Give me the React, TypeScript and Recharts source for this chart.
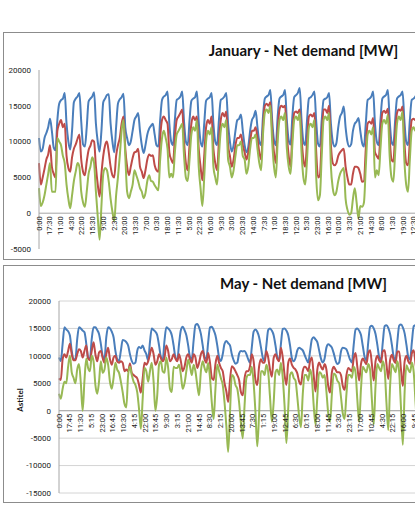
import { CartesianGrid, Line, LineChart, ReferenceLine, XAxis, YAxis } from "recharts";

// sample hours inside each day (data read every 3 hours off the picture)
const SAMPLE_HOURS = [0, 3, 6, 9, 12, 15, 18, 21];

// category labels that fall inside the picture (every 35th half hour / 71st quarter hour)
const JAN_LABELS = [
  "0:00", "17:30", "11:00", "4:30", "22:00", "15:30", "9:00", "2:30", "20:00", "13:30",
  "7:00", "0:30", "18:00", "11:30", "5:00", "22:30", "16:00", "9:30", "3:00", "20:30",
  "14:00", "7:30", "1:00", "18:30", "12:00", "5:30", "23:00", "16:30", "10:00", "3:30",
  "21:00", "14:30", "8:00", "1:30", "19:00", "12:30",
];

const MAY_LABELS = [
  "0:00", "17:45", "11:30", "5:15", "23:00", "16:45", "10:30", "4:15", "22:00", "15:45",
  "9:30", "3:15", "21:00", "14:45", "8:30", "2:15", "20:00", "13:45", "7:30", "1:15",
  "19:00", "12:45", "6:30", "0:15", "18:00", "11:45", "5:30", "23:15", "17:00", "10:45",
  "4:30", "22:15", "16:00", "9:45",
];

const JAN_Y_TICKS = [-5000, 0, 5000, 10000, 15000, 20000];
const MAY_Y_TICKS = [-15000, -10000, -5000, 0, 5000, 10000, 15000, 20000];

// January, half-hourly categories (one row per 3 h)
const JAN_DEMAND = [
  10500, 8600, 9000, 10500, 11200, 12000, 13200, 11500,
  9200, 8800, 13000, 15300, 15800, 16000, 16800, 12500,
  10000, 8900, 11500, 15500, 16000, 16300, 16800, 12800,
  9600, 9300, 12000, 15600, 16000, 16300, 16900, 12500,
  10000, 8600, 11500, 15500, 16000, 16500, 16600, 12500,
  10000, 8500, 12000, 15300, 15900, 16200, 16700, 12000,
  10500, 9500, 10000, 11500, 13000, 13500, 14000, 11500,
  9500, 8400, 9500, 11000, 11800, 12200, 12500, 11000,
  9500, 9300, 13000, 15800, 16300, 16500, 17000, 12500,
  10000, 9500, 13000, 15800, 16000, 16300, 17000, 12800,
  10000, 9500, 13000, 15700, 16000, 16200, 17000, 12800,
  10000, 9300, 12500, 15700, 16000, 16200, 16800, 12500,
  10000, 9500, 13000, 15800, 16000, 16300, 16800, 12500,
  10000, 8600, 9500, 11500, 13000, 13200, 13800, 11500,
  9500, 8500, 9300, 11500, 13000, 13500, 14300, 12000,
  10000, 9500, 13500, 16000, 16300, 16500, 17200, 13000,
  10200, 9500, 13500, 16000, 16300, 16500, 17200, 13000,
  10200, 9600, 13500, 16200, 16500, 16800, 17500, 13000,
  10000, 9500, 13000, 16000, 16200, 16500, 17000, 12800,
  9700, 9300, 13000, 15800, 16000, 16200, 16800, 12500,
  10000, 9300, 9800, 12000, 13500, 14000, 14900, 12000,
  10000, 9300, 9600, 11500, 12500, 12800, 13300, 11500,
  9800, 9300, 12500, 15800, 16000, 16300, 17000, 12500,
  10000, 9500, 13000, 16000, 16300, 16500, 17200, 13000,
  10000, 9500, 13000, 16000, 16300, 16500, 17000, 13000,
  10000, 9500, 13000, 15800, 16000, 16300, 16800, 12800,
  9800, 9400, 12800, 15800, 16000, 16200, 16800, 12500,
  10000,
];

const JAN_NET_A = [
  7000, 4000, 5000, 6200, 7500, 8200, 9500, 6500,
  5500, 5000, 11500, 12500, 13000, 12000, 12500, 8000,
  6300, 5800, 7800, 9000, 9600, 10400, 11000, 7500,
  5800, 5300, 7200, 8800, 9400, 10200, 10000, 6500,
  4000, 2300, 5500, 8000, 9500, 10000, 8500, 6500,
  5300, 5000, 8000, 9500, 10500, 12500, 13500, 9000,
  6500, 5300, 6500, 7700, 8500, 8600, 9000, 6500,
  5800, 4900, 6000, 7500, 8200, 8000, 8100, 6700,
  6000, 5800, 10500, 13000, 13500, 13000, 12500, 8500,
  7500, 7000, 10500, 13000, 13500, 14000, 14500, 10000,
  7000, 6000, 9500, 12500, 13500, 13000, 13500, 9000,
  6500, 4600, 8000, 12000, 13000, 12500, 13500, 9000,
  7000, 6000, 10000, 13000, 14000, 13500, 14200, 9500,
  8000, 6500, 7500, 9500, 10500, 10500, 11000, 9500,
  8500, 7500, 8500, 10000, 11500, 11500, 12000, 10500,
  8500, 7500, 12000, 15000, 15300, 15000, 15500, 11500,
  8500, 7000, 11500, 14500, 15000, 14800, 15000, 11000,
  8000, 6500, 11000, 14000, 14200, 14000, 14500, 10500,
  7500, 6500, 10000, 13500, 13800, 13500, 14000, 8500,
  5000, 5300, 10500, 14500, 14500, 14000, 15000, 9500,
  7000, 6700, 7000, 8000, 8500, 8800, 9000, 6500,
  5000, 4000, 4000, 5500, 6500, 6500, 6300, 5500,
  4400, 4500, 9000, 12500, 12800, 12500, 13300, 8500,
  8000, 7600, 11000, 14000, 14300, 14000, 14600, 10500,
  7500, 7200, 11000, 14000, 14500, 14300, 14900, 10000,
  7000, 6700, 10000, 13000, 13200, 13000, 13500, 9500,
  6500, 6200, 9500, 12500, 12800, 12500, 13000, 9000,
  6500,
];

const JAN_NET_B = [
  3500, 1000, 1500, 2500, 4000, 5500, 7000, 3000,
  3000, 3000, 10500, 10000, 9500, 8000, 7000, 4000,
  2000, 700, 2500, 4500, 5800, 7000, 6500, 3000,
  1500, 900, 3000, 5500, 6500, 7800, 7000, 3000,
  -500, -3700, 1000, 5500, 6300, 6000, 4400, 2000,
  200, -1100, 2500, 5000, 8000, 11500, 13000, 8000,
  3000, 2100, 3000, 4000, 6000, 5300, 4500, 3500,
  3000, 2100, 2800, 4500, 5300, 4500, 4400, 3900,
  3500, 3200, 7500, 10500, 11500, 10500, 9000, 5000,
  5500, 5000, 8500, 11000, 11500, 12000, 12500, 8000,
  5000, 4500, 7500, 11000, 12000, 11500, 13000, 6500,
  3500, 1000, 5000, 10000, 11500, 11000, 12000, 6500,
  5000, 4000, 8000, 11500, 12500, 12000, 13000, 7500,
  6500, 5000, 6000, 8000, 9500, 9500, 10000, 8000,
  7500, 5500, 6500, 9000, 10500, 10500, 11000, 9000,
  7000, 6000, 11000, 14000, 14500, 14000, 15000, 10000,
  6500, 5000, 10000, 13000, 13500, 13000, 14000, 9000,
  6500, 5500, 9500, 13000, 13500, 13000, 14000, 8500,
  5000, 4000, 7500, 12000, 12500, 12000, 13000, 5000,
  1800, 2500, 8000, 13000, 13500, 13000, 14000, 6500,
  3500, 2500, 3000, 4500, 5500, 6000, 6300, 2000,
  500, -200, 0, 2000, 3500, 1500, -700, 1000,
  900, 1500, 6500, 11000, 11500, 11000, 12000, 5000,
  6000, 5300, 9000, 12500, 13000, 12500, 13700, 8000,
  5000, 4400, 8500, 12500, 13500, 13000, 14200, 7500,
  4000, 3000, 7500, 11500, 12000, 11500, 12500, 6500,
  3500, 3000, 7000, 11000, 11500, 11000, 12000, 6000,
  3500,
];

// May, quarter-hourly categories (one row per 3 h)
const MAY_DEMAND = [
  9700, 9060, 12200, 15200, 14800, 14500, 13700, 10900,
  9400, 9400, 13000, 15200, 15000, 14600, 14300, 12200,
  9700, 9400, 13100, 15200, 15200, 14700, 14000, 12200,
  10000, 9400, 13400, 15200, 15000, 14400, 13400, 10900,
  9400, 9060, 10900, 12900, 12800, 12500, 11900, 10300,
  9060, 8560, 8750, 10900, 11600, 11400, 11900, 11000,
  10300, 9200, 12500, 15000, 14700, 14400, 13750, 11900,
  9800, 9200, 12800, 15200, 15000, 14600, 13750, 11900,
  9700, 9200, 12200, 14700, 15300, 14700, 13750, 11900,
  9800, 9400, 12800, 15600, 15800, 15200, 14000, 11900,
  9800, 9400, 12500, 15200, 15300, 14700, 13750, 11900,
  9700, 9060, 10300, 12200, 12700, 12300, 11900, 10300,
  9200, 8560, 8750, 10400, 10900, 10800, 10900, 10300,
  9400, 8750, 11600, 14400, 14800, 14400, 13400, 11600,
  9700, 9060, 11900, 14700, 15000, 14600, 13750, 11900,
  9800, 9200, 12200, 14900, 15000, 14600, 13750, 11900,
  9600, 9000, 9600, 11000, 11500, 11300, 11000, 10200,
  9400, 8800, 10800, 13000, 13400, 13000, 12500, 11000,
  9500, 8800, 9500, 11500, 12100, 11900, 11500, 10500,
  9200, 8500, 8800, 10800, 11500, 11400, 11200, 10300,
  9300, 8800, 12000, 14800, 15000, 14600, 13800, 11800,
  9800, 9200, 12500, 15300, 15500, 15000, 14000, 12000,
  9800, 9300, 12500, 15400, 15600, 15100, 14000, 12000,
  9800, 9300, 12600, 15500, 15700, 15200, 14100, 12000,
  9800, 9300, 12600, 15400, 15600, 15100, 14000, 12000,
  9800,
];

const MAY_NET_A = [
  5900, 5600, 9400, 10300, 9700, 10900, 12200, 10300,
  9200, 9200, 10300, 11200, 10900, 9700, 10900, 11900,
  9500, 9200, 10900, 12500, 10300, 9000, 10600, 10900,
  9600, 8750, 10300, 11500, 9400, 8400, 9700, 10000,
  9000, 8750, 9000, 8750, 7200, 7500, 7200, 8600,
  6900, 6500, 6250, 5900, 4700, 3300, 5900, 8750,
  8400, 9000, 10300, 11500, 10300, 8400, 9000, 10300,
  9600, 9000, 9700, 11900, 10900, 9000, 9400, 10300,
  9500, 9000, 10300, 9000, 7200, 8000, 9700, 10300,
  9400, 8750, 10300, 9700, 7800, 8750, 10300, 10900,
  9400, 8750, 10500, 8750, 6000, 5600, 8500, 10000,
  8750, 7800, 7200, 5000, 3500, 1600, 5600, 8100,
  7800, 7200, 6500, 5600, 3400, 2800, 5900, 7200,
  7200, 8100, 10300, 9000, 5600, 4700, 8100, 9400,
  8750, 8800, 10900, 9700, 7500, 6200, 9600, 10300,
  9400, 9000, 11500, 9700, 6500, 4700, 8700, 9500,
  8400, 7800, 7500, 6800, 5300, 4800, 7200, 8000,
  7800, 7200, 9000, 9700, 6500, 3500, 7500, 8800,
  8000, 7500, 8500, 7500, 4500, 3300, 7000, 8000,
  7500, 7000, 7000, 6500, 4500, 3800, 6500, 7800,
  7500, 7200, 9500, 10500, 8000, 5500, 8500, 9500,
  9000, 8500, 10500, 11000, 8500, 5500, 9000, 10000,
  9200, 8800, 10800, 11000, 8500, 5800, 9200, 10200,
  9200, 8700, 10800, 10800, 7500, 4500, 9000, 10000,
  9000, 8500, 10500, 11000, 8500, 6000, 9000, 10000,
  9000,
];

const MAY_NET_B = [
  3100, 2200, 4000, 5300, 5000, 8000, 10000, 7000,
  6000, 5000, 7500, 8500, 5000, 0, 5500, 9500,
  7800, 7200, 10000, 9000, 4700, 3100, 5300, 9000,
  6900, 7500, 9700, 8400, 5300, 4000, 6000, 8750,
  7500, 6900, 5300, 3400, 1250, 600, 6500, 8000,
  6500, 5300, 4700, 3400, 300, -3300, 2200, 7800,
  7200, 5300, 7200, 8750, 5300, 0, 2800, 8400,
  9000, 7200, 6900, 9700, 7800, 4000, 3400, 8000,
  7800, 7800, 8400, 6500, 4000, 5000, 7200, 9300,
  8100, 6500, 8400, 7200, 4700, 2800, 7200, 9000,
  7800, 7000, 8700, 6000, 1500, -1500, 4000, 8400,
  7200, 5900, 4700, 1500, -2800, -7500, -300, 6500,
  6200, 4700, 4000, 1500, -2200, -5000, 900, 5900,
  6500, 6500, 8000, 5000, -300, -6500, -500, 7200,
  7200, 6500, 8400, 7000, 2500, -2000, 1500, 7000,
  7500, 6500, 8750, 6000, 900, -5900, 300, 6500,
  7000, 6000, 5500, 2500, -1000, -3000, 3000, 6500,
  6500, 5500, 7500, 6000, 1000, -2500, 2500, 7000,
  6800, 6000, 6500, 3500, -500, -2000, 3000, 6800,
  6500, 5500, 5000, 2500, -500, -1500, 3000, 6500,
  6500, 6000, 8000, 7000, 2000, -2000, 4000, 8000,
  7500, 7000, 8500, 7500, 2000, -2500, 4500, 8500,
  7800, 7200, 9000, 7500, 1500, -3500, 4500, 8500,
  7800, 7000, 9000, 7000, 500, -6200, 3500, 8300,
  7500, 7000, 8800, 7000, 1500, -3000, 4000, 8000,
  7500,
];

const BLUE = "#4A7EBB";
const RED = "#BE4B48";
const GREEN = "#98B954";
const AXIS = "#a6a6a6";
const FONT = "Roboto, 'Liberation Sans', sans-serif";

type Row = { t: number; demand: number; netA: number; netB: number };

// stepsPerHour: 2 for half-hourly (January), 4 for quarter-hourly (May)
function buildRows(stepsPerHour: number, demand: number[], netA: number[], netB: number[]): Row[] {
  return demand.map((d, i) => ({
    t: (Math.floor(i / SAMPLE_HOURS.length) * 24 + SAMPLE_HOURS[i % SAMPLE_HOURS.length]) * stepsPerHour,
    demand: d,
    netA: netA[i],
    netB: netB[i],
  }));
}

const janRows = buildRows(2, JAN_DEMAND, JAN_NET_A, JAN_NET_B);
const mayRows = buildRows(4, MAY_DEMAND, MAY_NET_A, MAY_NET_B);

type PanelProps = {
  top: number;
  width: number;
  height: number;
  marginTop: number;
  marginBottom: number;
  axisWidth: number;
  rows: Row[];
  labels: string[];
  labelStep: number;
  lastIndex: number;
  yTicks: number[];
  grid: boolean;
};

function Panel(p: PanelProps) {
  const yMin = p.yTicks[0];
  const yMax = p.yTicks[p.yTicks.length - 1];
  const plotH = p.height - p.marginTop - p.marginBottom - 1;
  // the category labels hang from the zero line, as in Excel
  const lift = (plotH * (0 - yMin)) / (yMax - yMin);

  const renderTick = (props: any) => {
    const { x, y, payload } = props;
    const label = p.labels[Math.round(payload.value / p.labelStep)];
    const py = y - lift + 3;
    return (
      <text
        x={x}
        y={py}
        dy="0.35em"
        textAnchor="end"
        transform={`rotate(-90 ${x} ${py})`}
        fontSize={7.5}
        fill="#222"
        fontFamily={FONT}
      >
        {label}
      </text>
    );
  };

  return (
    <div style={{ position: "absolute", left: 0, top: p.top }}>
      <LineChart
        width={p.width}
        height={p.height}
        data={p.rows}
        margin={{ top: p.marginTop, right: 0, bottom: p.marginBottom, left: 0 }}
      >
        {p.grid && (
          <CartesianGrid vertical={false} stroke="#d4d4d4" horizontalValues={p.yTicks} />
        )}
        <XAxis
          dataKey="t"
          type="number"
          domain={[0, p.lastIndex]}
          ticks={p.labels.map((_, i) => i * p.labelStep)}
          interval={0}
          height={1}
          axisLine={false}
          tickLine={false}
          tickSize={0}
          tickMargin={0}
          tick={renderTick}
        />
        <YAxis
          type="number"
          domain={[yMin, yMax]}
          ticks={p.yTicks}
          interval={0}
          width={p.axisWidth}
          axisLine={{ stroke: AXIS }}
          tickLine={false}
          tick={{ fontSize: 8, fill: "#222", fontFamily: FONT }}
        />
        <ReferenceLine y={0} stroke={AXIS} />
        <Line type="monotone" dataKey="demand" stroke={BLUE} strokeWidth={2} dot={false} isAnimationActive={false} />
        <Line type="monotone" dataKey="netA" stroke={RED} strokeWidth={2} dot={false} isAnimationActive={false} />
        <Line type="monotone" dataKey="netB" stroke={GREEN} strokeWidth={2} dot={false} isAnimationActive={false} />
      </LineChart>
    </div>
  );
}

const titleStyle: React.CSSProperties = {
  position: "absolute",
  left: 0,
  width: 607,
  textAlign: "center",
  fontFamily: "Lato, 'Open Sans', sans-serif",
  fontWeight: 700,
  fontSize: 15,
  lineHeight: "15px",
  color: "#111",
};

const frameStyle: React.CSSProperties = {
  position: "absolute",
  left: 3,
  width: 700,
  border: "1px solid #8c8c8c",
  boxSizing: "border-box",
};

export default function App() {
  return (
    <div
      style={{
        position: "fixed",
        left: 0,
        top: 0,
        width: 415,
        height: 506,
        overflow: "hidden",
        background: "#fff",
      }}
    >
      <div style={{ ...frameStyle, top: 32, height: 228 }} />
      <div style={{ ...frameStyle, top: 265, height: 238 }} />

      <Panel
        top={0}
        width={494}
        height={260}
        marginTop={70}
        marginBottom={10}
        axisWidth={39}
        rows={janRows}
        labels={JAN_LABELS}
        labelStep={35}
        lastIndex={31 * 48 - 1}
        yTicks={JAN_Y_TICKS}
        grid={false}
      />
      <Panel
        top={255}
        width={510}
        height={250}
        marginTop={46}
        marginBottom={11}
        axisWidth={59}
        rows={mayRows}
        labels={MAY_LABELS}
        labelStep={71}
        lastIndex={31 * 96 - 1}
        yTicks={MAY_Y_TICKS}
        grid={true}
      />

      <div style={{ ...titleStyle, top: 43 }}>January - Net demand [MW]</div>
      <div style={{ ...titleStyle, top: 276 }}>May - Net demand [MW]</div>
      <div
        style={{
          position: "absolute",
          left: 20,
          top: 400,
          transform: "translate(-50%, -50%) rotate(-90deg)",
          fontFamily: "Lato, 'Open Sans', sans-serif",
          fontWeight: 700,
          fontSize: 8,
          color: "#111",
          whiteSpace: "nowrap",
        }}
      >
        Astitel
      </div>
    </div>
  );
}
